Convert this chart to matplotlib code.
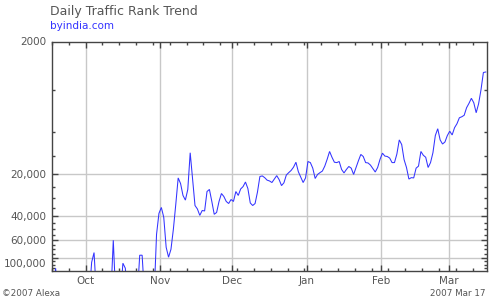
import datetime as dt
import matplotlib
matplotlib.use("Agg")
import matplotlib.pyplot as plt
import matplotlib.dates as mdates
import matplotlib.ticker as mticker

# ---- data -------------------------------------------------------------
title = "Daily Traffic Rank Trend"
site = "byindia.com"
start_date = dt.datetime(2006, 9, 17, 12)
OFF = 150000  # rank below the visible range (off chart)

ranks = (
    [OFF, 95500] + [OFF] * 14 + [86500, 73700] + [OFF] * 7 + [60100]
    + [OFF] * 3 + [87900, 95500] + [OFF] * 5 + [77000, 77000] + [OFF] * 5
    + [54500, 38500, 34900, 41100, 67500, 79600, 69800, 50100, 33200, 21400,
       23500, 28600, 30900, 25900, 14100, 22000, 33800, 35800, 39800, 36700,
       37000, 26800, 25900, 31600, 39100, 37900, 31600, 27700, 29100, 31600,
       32700, 30600, 31600, 26800, 28600, 25700, 24700, 22900, 25500, 32400,
       33800, 32700, 27000, 20900, 20700, 21300, 22200, 22500, 23100, 21800,
       20600, 22000, 24300, 23200, 20400, 19600, 18900, 17900, 16500, 19300,
       21100, 23100, 21400, 16300, 16600, 18200, 21600, 20200, 19600, 19100,
       17600, 15700, 13800, 15200, 16500, 16600, 16300, 18600, 19700, 18600,
       17700, 18200, 20200, 18000, 16100, 14500, 15000, 16600, 16700, 17300,
       18300, 19400, 18000, 15700, 14200, 14900, 15000, 15400, 16600, 16600,
       14400, 11400, 12300, 15800, 18000, 21800, 21300, 21400, 18200, 17600,
       13800, 14700, 15200, 18000, 16600, 14100, 10600, 9470, 11400, 12200,
       11800, 10600, 9870, 10500, 9310, 8720, 7900, 7770, 7580, 6690,
       6220, 5720, 6160, 7270, 6270, 4970, 3730, 3700]
)
dates = [start_date + dt.timedelta(days=i) for i in range(len(ranks))]

y_grid_values = [20000, 40000, 60000, 80000]
y_grid_labels = ["20,000", "40,000", "60,000", ""]
y_minor_values = [5000, 10000, 15000, 25000, 30000, 35000, 45000, 50000,
                  55000, 65000, 70000, 75000, 85000, 90000, 95000]
y_top_label = "2000"
y_bottom_label = "100,000"
y_range = (100000, 2240)
x_range = (dt.datetime(2006, 9, 17), dt.datetime(2007, 3, 17))
footer_left = "\u00a92007 Alexa"
footer_right = "2007 Mar 17"

# ---- style ------------------------------------------------------------
line_color = "#3333ff"
text_gray = "#555555"
axis_gray = "#444444"
grid_gray = "#c8c8c8"

fig = plt.figure(figsize=(5, 3), dpi=100)
ax = fig.add_axes([0.104, 0.0967, 0.87, 0.7643])

ax.set_yscale("log")
ax.plot(dates, ranks, color=line_color, lw=0.75, solid_joinstyle="miter")
ax.set_ylim(*y_range)
ax.set_xlim(*x_range)

ax.yaxis.set_major_locator(mticker.FixedLocator(y_grid_values))
ax.yaxis.set_major_formatter(mticker.FixedFormatter(y_grid_labels))
ax.yaxis.set_minor_locator(mticker.FixedLocator(y_minor_values))
ax.yaxis.set_minor_formatter(mticker.NullFormatter())

ax.xaxis.set_major_locator(mdates.MonthLocator())
ax.xaxis.set_major_formatter(mdates.DateFormatter("%b"))
ax.xaxis.set_minor_locator(mdates.WeekdayLocator(byweekday=mdates.SU))

ax.grid(which="major", color=grid_gray, lw=1.0)
ax.set_axisbelow(True)

for s in ax.spines.values():
    s.set_color(axis_gray)
    s.set_linewidth(1.0)

ax.tick_params(which="both", direction="in", top=True, right=True,
               color=axis_gray, width=1.0, labelcolor=text_gray,
               labelsize=7.5)
ax.tick_params(which="major", length=4)
ax.tick_params(which="minor", length=2.5)
ax.tick_params(axis="y", pad=4.3)
ax.tick_params(axis="x", pad=3.5)

ax.annotate(y_top_label, xy=(0, 1), xycoords="axes fraction",
            xytext=(-4.3, 0), textcoords="offset points",
            ha="right", va="center", fontsize=7.5, color=text_gray)
ax.annotate(y_bottom_label, xy=(0, 0), xycoords="axes fraction",
            xytext=(-4.3, 5), textcoords="offset points",
            ha="right", va="center", fontsize=7.5, color=text_gray)

fig.text(0.1, 1 - 15 / 300, title, fontsize=9, color=text_gray,
         ha="left", va="baseline")
fig.text(0.1, 1 - 29 / 300, site, fontsize=7.5, color=line_color,
         ha="left", va="baseline")
fig.text(0.004, 1 - 296 / 300, footer_left, fontsize=6.3, color=text_gray,
         ha="left", va="baseline")
fig.text(0.97, 1 - 296 / 300, footer_right, fontsize=6.3, color=text_gray,
         ha="right", va="baseline")

fig.savefig("out.png", dpi=100)
